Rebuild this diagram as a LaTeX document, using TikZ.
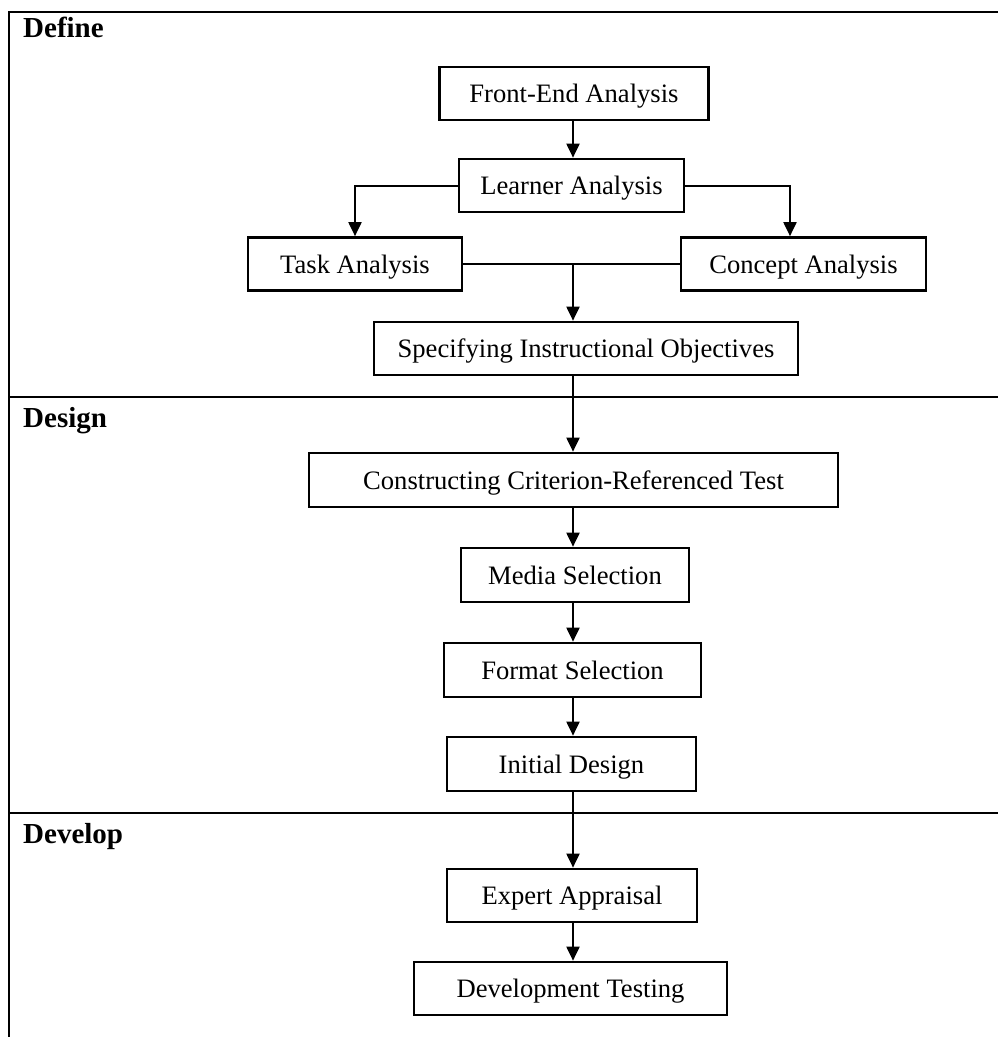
\documentclass[tikz,border=0pt]{standalone}
\usepackage{fontspec}
\setmainfont{Liberation Serif}
\usetikzlibrary{arrows.meta}
\tikzset{
  box/.style={draw, line width=2.7pt, inner sep=0pt, minimum height=53pt, text height=18pt, text depth=0pt, font=\fontsize{26.6}{30}\selectfont},
  arr/.style={-{Triangle[length=14pt,width=13pt]}, line width=2pt},
  conn/.style={line width=2pt},
  frame/.style={line width=2pt},
  head/.style={anchor=base west, inner sep=0pt, font=\fontsize{29}{32}\selectfont\bfseries}
}
\begin{document}
\begin{tikzpicture}[x=1pt,y=-1pt]
\useasboundingbox (0,0) rectangle (998,1037);
% frame
\draw[frame] (9,1037) -- (9,12) -- (998,12);
\draw[frame] (9,397) -- (998,397);
\draw[frame] (9,813) -- (998,813);
% headings
\node[head] (hdef) at (23,37) {Define};
\node[head] (hdes) at (23,427) {Design};
\node[head] (hdev) at (23,843) {Develop};
% boxes
\node[box, minimum width=269pt] (fe) at (574,93.5) {Front-End Analysis};
\node[box, minimum width=225pt] (la) at (571.5,185.5) {Learner Analysis};
\node[box, minimum width=214pt] (ta) at (355,264) {Task Analysis};
\node[box, minimum width=245pt] (ca) at (803.5,264) {Concept Analysis};
\node[box, minimum width=424pt] (sp) at (586,348.5) {Specifying Instructional Objectives};
\node[box, minimum width=529pt, minimum height=54pt] (cr) at (573.5,480) {Constructing Criterion-Referenced Test};
\node[box, minimum width=228pt, minimum height=54pt] (me) at (575,575) {Media Selection};
\node[box, minimum width=257pt, minimum height=54pt] (fs) at (572.5,670) {Format Selection};
\node[box, minimum width=249pt, minimum height=54pt] (id) at (571.5,764) {Initial Design};
\node[box, minimum width=250pt] (ea) at (572,895.5) {Expert Appraisal};
\node[box, minimum width=313pt] (dt) at (570.5,988.5) {Development Testing};
% column and junction
\coordinate (col) at (573,0);
\coordinate (j) at (573,264);
% connectors
\draw[arr] (fe.south -| col) -- (la.north -| col);
\draw[arr] (la.west) -| (ta.north);
\draw[arr] (la.east) -| ([xshift=-13.5pt]ca.north);
\draw[conn] (ta.east) -- (ca.west);
\draw[arr] (j) -- (sp.north -| col);
\draw[arr] (sp.south -| col) -- (cr.north -| col);
\draw[arr] (cr.south -| col) -- (me.north -| col);
\draw[arr] (me.south -| col) -- (fs.north -| col);
\draw[arr] (fs.south -| col) -- (id.north -| col);
\draw[arr] (id.south -| col) -- (ea.north -| col);
\draw[arr] (ea.south -| col) -- (dt.north -| col);
\end{tikzpicture}
\end{document}
